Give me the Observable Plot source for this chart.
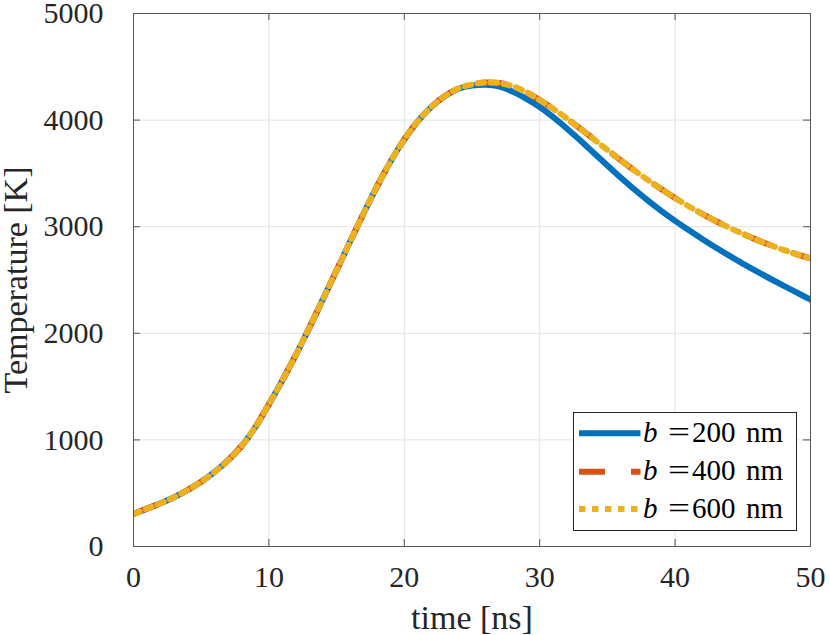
<!DOCTYPE html>
<html>
<head>
<meta charset="utf-8">
<script src="https://cdn.jsdelivr.net/npm/d3@7"></script>
<script src="https://cdn.jsdelivr.net/npm/@observablehq/plot@0.6"></script>
<style>
  html, body { margin: 0; padding: 0; background: #fff; }
  #wrap { position: relative; width: 830px; height: 635px; font-family: "Liberation Serif", "Times New Roman", serif; }
  #legend { position: absolute; left: 573px; top: 412px; }
</style>
</head>
<body>
<div id="wrap"></div>
<script>
// ---- data ----
const timeNs = [0,1,2,3,4,5,6,7,8,9,10,11,12,13,14,15,16,17,18,19,20,21,22,23,24,25,26,27,28,29,30,31,32,33,34,35,36,37,38,39,40,41,42,43,44,45,46,47,48,49,50];
const temp200 = [305,355,405,462,530,607,700,810,945,1120,1335,1560,1800,2055,2323,2591,2861,3126,3381,3614,3819,3989,4124,4226,4294,4324,4332,4317,4267,4202,4122,4027,3922,3809,3692,3574,3459,3349,3245,3147,3055,2968,2885,2805,2728,2654,2583,2514,2447,2381,2316];
const temp400 = [305,355,405,462,530,607,700,810,945,1120,1335,1560,1800,2055,2323,2591,2861,3126,3381,3614,3819,3989,4124,4227,4298,4335,4352,4348,4318,4263,4188,4106,4016,3920,3820,3720,3622,3527,3437,3351,3269,3192,3120,3053,2991,2933,2879,2829,2783,2741,2703];
const temp600 = [305,355,405,462,530,607,700,810,945,1120,1335,1560,1800,2055,2323,2591,2861,3126,3381,3614,3819,3989,4124,4227,4298,4335,4352,4348,4318,4263,4188,4106,4016,3920,3820,3720,3622,3527,3437,3351,3269,3192,3120,3053,2991,2933,2879,2829,2783,2741,2703];
const seriesB = ["200", "400", "600"];
const seriesColors = ["#0072BD", "#D95319", "#EDB120"];
const seriesDash = [null, "26,26", "6.5,6.5"];
const xTicks = [0, 10, 20, 30, 40, 50];
const yTicks = [0, 1000, 2000, 3000, 4000, 5000];
const xLabel = "time [ns]";
const yLabel = "Temperature [K]";

// ---- layout ----
const W = 830, H = 635, mL = 133, mR = 20, mT = 13, mB = 89;
const fw = W - mL - mR, fh = H - mT - mB, tk = 7;
const serif = "Liberation Serif";

const seriesTemps = [temp200, temp400, temp600];
const lineMarks = seriesTemps.map((temps, i) =>
  Plot.line(timeNs.map((t, j) => ({t, T: temps[j]})), {
    x: "t", y: "T",
    stroke: seriesColors[i],
    strokeWidth: 6,
    strokeDasharray: seriesDash[i] || undefined,
    curve: "catmull-rom",
    clip: "frame"
  })
);

const chart = Plot.plot({
  width: W, height: H,
  marginLeft: mL, marginRight: mR, marginTop: mT, marginBottom: mB,
  style: {fontFamily: serif, color: "#262626", background: "#fff"},
  x: {domain: [0, 50]},
  y: {domain: [0, 5000]},
  marks: [
    Plot.ruleX(xTicks, {x: d => d, stroke: "#e3e3e3", strokeWidth: 1}),
    Plot.ruleY(yTicks, {y: d => d, stroke: "#e3e3e3", strokeWidth: 1}),
    ...lineMarks,
    Plot.tickX(xTicks, {x: d => d, insetTop: fh - tk, stroke: "#555"}),
    Plot.tickX(xTicks, {x: d => d, insetBottom: fh - tk, stroke: "#555"}),
    Plot.tickY(yTicks, {y: d => d, insetRight: fw - tk, stroke: "#555"}),
    Plot.tickY(yTicks, {y: d => d, insetLeft: fw - tk, stroke: "#555"}),
    Plot.frame({stroke: "#555", strokeWidth: 1}),
    Plot.axisX({ticks: xTicks, tickSize: 0, tickPadding: 19, fontSize: 30, label: null, fill: "#262626"}),
    Plot.axisY({ticks: yTicks, tickSize: 0, tickPadding: 30, fontSize: 30, label: null, fill: "#262626", tickFormat: d => String(d)}),
    Plot.text([xLabel], {frameAnchor: "bottom", textAnchor: "middle", lineAnchor: "middle", dy: 72, fontSize: 34, fill: "#262626"}),
    Plot.text([yLabel], {frameAnchor: "left", textAnchor: "middle", lineAnchor: "middle", dx: -117, rotate: -90, fontSize: 34, fill: "#262626"})
  ]
});
document.getElementById("wrap").appendChild(chart);

// ---- legend (overlay) ----
const ns = "http://www.w3.org/2000/svg";
const lg = document.createElementNS(ns, "svg");
lg.setAttribute("id", "legend");
lg.setAttribute("width", 225);
lg.setAttribute("height", 120);
const box = document.createElementNS(ns, "rect");
box.setAttribute("x", 0.5); box.setAttribute("y", 0.5);
box.setAttribute("width", 223); box.setAttribute("height", 118);
box.setAttribute("fill", "#fff"); box.setAttribute("stroke", "#262626"); box.setAttribute("stroke-width", 1);
lg.appendChild(box);
const rowY = [21.3, 59.7, 97];
seriesB.forEach((b, i) => {
  const ln = document.createElementNS(ns, "line");
  ln.setAttribute("x1", 6); ln.setAttribute("x2", 67.5);
  ln.setAttribute("y1", rowY[i]); ln.setAttribute("y2", rowY[i]);
  ln.setAttribute("stroke", seriesColors[i]);
  ln.setAttribute("stroke-width", 6);
  if (seriesDash[i]) ln.setAttribute("stroke-dasharray", seriesDash[i]);
  lg.appendChild(ln);
  const tx = document.createElementNS(ns, "text");
  tx.setAttribute("y", rowY[i] + 8.5);
  tx.setAttribute("font-family", serif);
  tx.setAttribute("font-size", 29);
  tx.setAttribute("fill", "#000");
  const parts = [["b", 70, "italic", null], ["=", 95, "normal", 22], [b, 119, "normal", null], ["nm", 173, "normal", null]];
  parts.forEach(([s, x, st, len]) => {
    const sp = document.createElementNS(ns, "tspan");
    sp.setAttribute("x", x);
    sp.setAttribute("font-style", st);
    if (len) { sp.setAttribute("textLength", len); sp.setAttribute("lengthAdjust", "spacingAndGlyphs"); }
    sp.textContent = s;
    tx.appendChild(sp);
  });
  lg.appendChild(tx);
});
document.getElementById("wrap").appendChild(lg);
</script>
</body>
</html>
